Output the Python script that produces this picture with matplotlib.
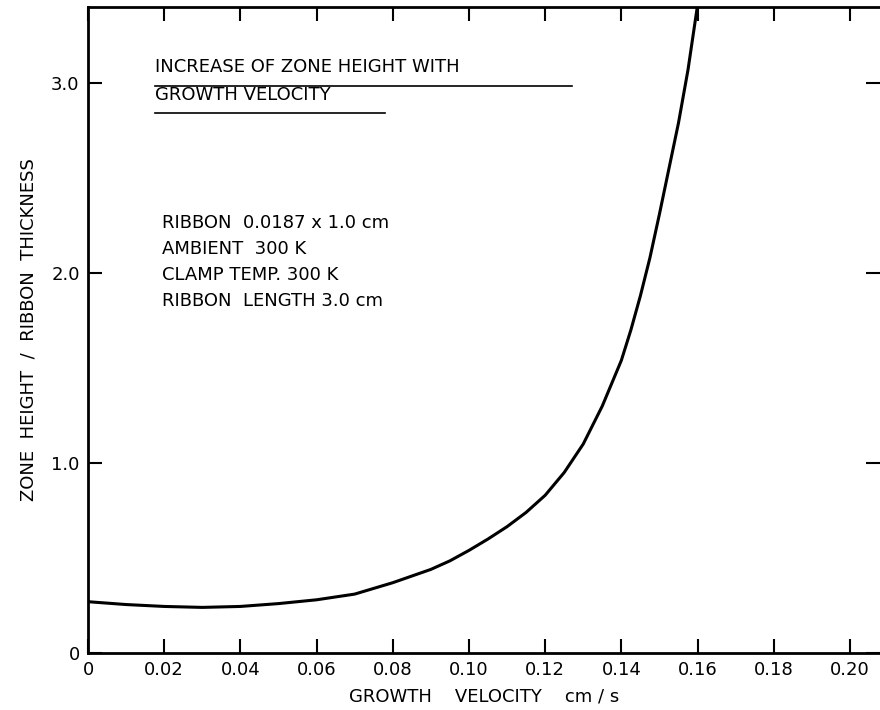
import matplotlib
matplotlib.use("Agg")
import matplotlib.pyplot as plt

# ─── DATA ──────────────────────────────────────────────────────────────────────

velocity = [0.0, 0.01, 0.02, 0.03, 0.04, 0.05, 0.06, 0.07, 0.08, 0.09,
            0.095, 0.10, 0.105, 0.11, 0.115, 0.12, 0.125, 0.13, 0.135,
            0.14, 0.1425, 0.145, 0.1475, 0.15, 0.1525, 0.155, 0.1575, 0.1603]
zone_ratio = [0.27, 0.255, 0.245, 0.24, 0.245, 0.26, 0.28, 0.31, 0.37, 0.44,
              0.485, 0.54, 0.60, 0.665, 0.74, 0.83, 0.95, 1.10, 1.30,
              1.54, 1.70, 1.88, 2.08, 2.31, 2.55, 2.79, 3.07, 3.45]

xticks = [0.0, 0.02, 0.04, 0.06, 0.08, 0.10, 0.12, 0.14, 0.16, 0.18, 0.20]
xtick_labels = ["0", "0.02", "0.04", "0.06", "0.08", "0.10", "0.12",
                "0.14", "0.16", "0.18", "0.20"]
yticks = [0.0, 1.0, 2.0, 3.0]
ytick_labels = ["0", "1.0", "2.0", "3.0"]

title_lines = ["INCREASE OF ZONE HEIGHT WITH", "GROWTH VELOCITY"]
conditions = ["RIBBON  0.0187 x 1.0 cm", "AMBIENT  300 K",
              "CLAMP TEMP. 300 K", "RIBBON  LENGTH 3.0 cm"]

# ─── PLOT ──────────────────────────────────────────────────────────────────────

plt.rcParams['font.family'] = ['DejaVu Sans']

fig = plt.figure(figsize=(8.8, 7.1), dpi=100)
ax = fig.add_axes([0.1, 0.0803, 0.9, 0.9097])

ax.plot(velocity, zone_ratio, color="black", lw=2.2,
        solid_joinstyle="round", solid_capstyle="round")
ax.set_xlim(0, 0.2079)
ax.set_ylim(0, 3.4)

ax.set_xticks(xticks)
ax.set_xticklabels(xtick_labels)
ax.set_yticks(yticks)
ax.set_yticklabels(ytick_labels)
ax.tick_params(direction="in", length=10, width=1.5, labelsize=13,
               top=True, right=True, pad=6)

for side in ["left", "bottom", "top"]:
    ax.spines[side].set_linewidth(2)
ax.spines["right"].set_visible(False)

ax.set_xlabel("GROWTH    VELOCITY    cm / s", fontsize=13, labelpad=6)
ax.set_ylabel("ZONE  HEIGHT  /  RIBBON  THICKNESS", fontsize=13, labelpad=10)

# heading with underlines
ax.text(0.0846, 0.899, title_lines[0], transform=ax.transAxes, fontsize=13,
        va="baseline")
ax.plot([0.0846, 0.611], [0.878, 0.878], transform=ax.transAxes,
        color="black", lw=1.2)
ax.text(0.0846, 0.856, title_lines[1], transform=ax.transAxes, fontsize=13,
        va="baseline")
ax.plot([0.0846, 0.375], [0.836, 0.836], transform=ax.transAxes,
        color="black", lw=1.2)

# run conditions
for i, line in enumerate(conditions):
    ax.text(0.093, 0.658 - i * 0.0405, line, transform=ax.transAxes,
            fontsize=13, va="baseline")

plt.savefig("out.png", dpi=100)
